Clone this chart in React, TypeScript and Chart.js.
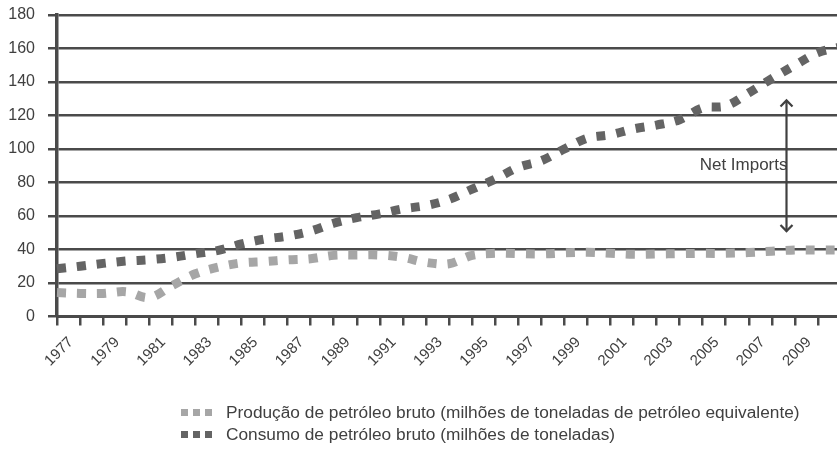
import React, { useEffect, useRef } from 'react';
import { Chart, registerables } from 'chart.js';

Chart.register(...registerables);

// ---- data ----
const years = [
  '1977', '1978', '1979', '1980', '1981', '1982', '1983', '1984', '1985', '1986',
  '1987', '1988', '1989', '1990', '1991', '1992', '1993', '1994', '1995', '1996',
  '1997', '1998', '1999', '2000', '2001', '2002', '2003', '2004', '2005', '2006',
  '2007', '2008', '2009', '2010', '2011',
];

const production = [
  14.3, 13.8, 13.8, 14.8, 11.3, 18.5, 25.5, 29.5, 32, 32.8,
  33.8, 34.5, 36.5, 36.7, 36.7, 35.3, 32.3, 31.5, 36.5, 37.7,
  37.5, 37.3, 38, 38.3, 37.7, 37.1, 37.3, 37.5, 37.7, 37.7,
  38.2, 39, 39.7, 39.7, 39.7,
];

const consumption = [
  28.5, 30, 31.7, 33.1, 33.9, 35.3, 37.5, 39.5, 43.3, 46.2,
  48, 51, 55.7, 59, 61.3, 64.3, 66.2, 69.9, 76, 82,
  89, 93, 100, 106.5, 108.5, 112, 114.3, 117.5, 124.5, 125.7,
  133.5, 142, 150, 157.5, 161,
];

const xTickLabels = [
  '1977', '1979', '1981', '1983', '1985', '1987', '1989', '1991', '1993',
  '1995', '1997', '1999', '2001', '2003', '2005', '2007', '2009',
];

const yMin = 0;
const yMax = 180;
const yStep = 20;

const seriesNames = [
  'Produção de petróleo bruto (milhões de toneladas de petróleo equivalente)',
  'Consumo de petróleo bruto (milhões de toneladas)',
];
const seriesColors = ['#a6a6a6', '#646464'];

// annotation (Net Imports double arrow)
const annotationText = 'Net Imports';
const arrowCategory = 31.6;
const arrowTop = 129;
const arrowBottom = 51;
const annotationLabelValue = 90;

const TEXT = '#404040';
const GRID = '#4a4a4a';
const FONT = '"Liberation Sans", Arial, Helvetica, sans-serif';

const netImportsPlugin = {
  id: 'netImports',
  afterDatasetsDraw(chart: any) {
    const { ctx, scales } = chart;
    const x = scales.x;
    const y = scales.y;
    const px = Math.round(x.getPixelForValue(arrowCategory)) + 0.5;
    const top = y.getPixelForValue(arrowTop);
    const bot = y.getPixelForValue(arrowBottom);
    ctx.save();
    ctx.strokeStyle = TEXT;
    ctx.lineWidth = 2.2;
    ctx.beginPath();
    ctx.moveTo(px, top);
    ctx.lineTo(px, bot);
    ctx.stroke();
    ctx.beginPath();
    ctx.moveTo(px - 6, top + 6);
    ctx.lineTo(px, top);
    ctx.lineTo(px + 6, top + 6);
    ctx.stroke();
    ctx.beginPath();
    ctx.moveTo(px - 6, bot - 6);
    ctx.lineTo(px, bot);
    ctx.lineTo(px + 6, bot - 6);
    ctx.stroke();
    ctx.font = `17px ${FONT}`;
    ctx.fillStyle = TEXT;
    ctx.textAlign = 'right';
    ctx.textBaseline = 'middle';
    ctx.fillText(annotationText, px + 1, y.getPixelForValue(annotationLabelValue));
    ctx.restore();
  },
};

function LegendRow({ color, label }: { color: string; label: string }) {
  const sq = (i: number) => (
    <span
      key={i}
      style={{
        display: 'inline-block',
        width: 7,
        height: 7,
        background: color,
        marginRight: i < 2 ? 5 : 0,
      }}
    />
  );
  return (
    <div style={{ display: 'flex', alignItems: 'center', height: 22, whiteSpace: 'nowrap' }}>
      <span style={{ display: 'inline-flex', alignItems: 'center', width: 45 }}>
        {[0, 1, 2].map(sq)}
      </span>
      <span style={{ font: `17.3px ${FONT}`, color: TEXT }}>{label}</span>
    </div>
  );
}

export default function App() {
  const canvasRef = useRef<HTMLCanvasElement | null>(null);

  useEffect(() => {
    if (!canvasRef.current) return;
    const chart = new Chart(canvasRef.current, {
      type: 'line',
      data: {
        labels: years,
        datasets: [
          {
            label: seriesNames[0],
            data: production,
            borderColor: seriesColors[0],
            backgroundColor: seriesColors[0],
            borderWidth: 9,
            borderDash: [9, 11],
            borderCapStyle: 'butt',
            pointRadius: 0,
            tension: 0.35,
            fill: false,
          },
          {
            label: seriesNames[1],
            data: consumption,
            borderColor: seriesColors[1],
            backgroundColor: seriesColors[1],
            borderWidth: 9,
            borderDash: [9, 11],
            borderCapStyle: 'butt',
            pointRadius: 0,
            tension: 0.35,
            fill: false,
          },
        ],
      },
      options: {
        responsive: false,
        animation: false,
        devicePixelRatio: 1,
        layout: { padding: { top: 15, right: 4, bottom: 0, left: 0 } },
        plugins: {
          legend: { display: false },
          tooltip: { enabled: false },
        },
        scales: {
          x: {
            type: 'category',
            offset: false,
            afterFit: (axis: any) => {
              axis.height = 132.5;
              axis.paddingLeft = 0;
              axis.paddingRight = 0;
            },
            grid: {
              offset: false,
              drawOnChartArea: false,
              drawTicks: true,
              tickLength: 9,
              color: GRID,
              lineWidth: 2.5,
            },
            border: { display: true, color: GRID, width: 3 },
            ticks: {
              autoSkip: false,
              maxRotation: 45,
              minRotation: 45,
              labelOffset: 14,
              padding: 8,
              color: TEXT,
              font: { family: FONT, size: 15 },
              callback: function (this: any, _v: any, idx: number) {
                const lab = years[idx];
                return xTickLabels.includes(lab) ? lab : '';
              },
            },
          },
          y: {
            min: yMin,
            max: yMax,
            afterFit: (axis: any) => {
              axis.width = 57;
              axis.paddingTop = 0;
              axis.paddingBottom = 0;
            },
            grid: {
              drawTicks: true,
              tickLength: 9,
              color: GRID,
              lineWidth: 2.5,
            },
            border: { display: true, color: GRID, width: 3.5 },
            ticks: {
              stepSize: yStep,
              padding: 13,
              color: TEXT,
              font: { family: FONT, size: 16 },
            },
          },
        },
      },
      plugins: [netImportsPlugin],
    } as any);
    return () => chart.destroy();
  }, []);

  return (
    <div
      style={{
        position: 'fixed',
        left: 0,
        top: 0,
        width: 837,
        height: 449,
        overflow: 'hidden',
        background: '#ffffff',
      }}
    >
      <canvas
        ref={canvasRef}
        width={845}
        height={449}
        style={{ display: 'block', width: 845, height: 449 }}
      />
      <div style={{ position: 'absolute', left: 181, top: 401 }}>
        <LegendRow color={seriesColors[0]} label={seriesNames[0]} />
        <LegendRow color={seriesColors[1]} label={seriesNames[1]} />
      </div>
    </div>
  );
}
